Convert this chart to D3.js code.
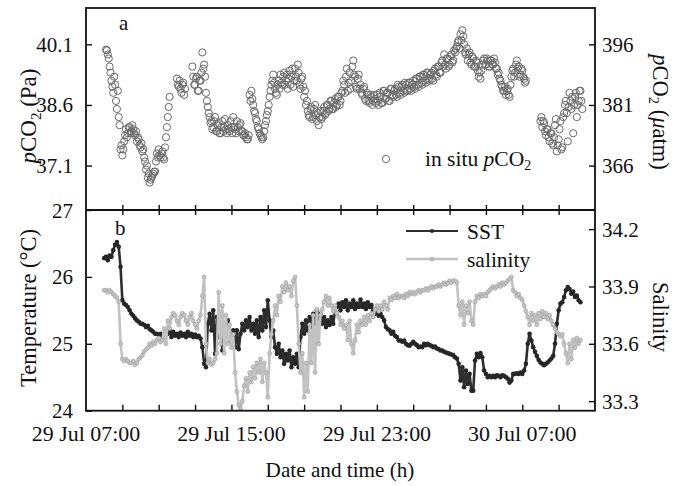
<!DOCTYPE html>
<html>
<head>
<meta charset="utf-8">
<script src="https://cdn.jsdelivr.net/npm/d3@7"></script>
<style>
  html, body { margin: 0; padding: 0; background: #fff; }
  svg text { font-family: "Liberation Serif", "Times New Roman", serif; fill: #111; }
</style>
</head>
<body>
<svg id="chart" width="674" height="486"></svg>
<script>
// Hours are counted from 29 Jul 07:00.

// In situ pCO2 (Pa), one reading every 3 minutes (one row per hour); null = no reading.
const pco2Step = 0.05;
const pco2Start = 1.0;
const pco2Pa = [
  null, null, 39.97, 39.95, 39.85, 39.75, 39.55, 39.4, 39.2, 39.05, 38.9, 39.3, 39.1, 38.7, 38.5, 38.95, 38.3, 38.1, 37.5, 37.6,
  37.35, 37.5, 37.7, 37.85, 38.0, 37.8, 37.9, 38.05, 38.05, 37.9, 37.95, 38.1, 38.0, 37.9, 37.85, 37.95, 37.7, 37.8, 37.75, 37.6,
  37.55, 37.65, 37.45, 37.5, 37.3, 37.2, 37.0, 37.1, 36.8, 36.9, 36.68, 36.75, 36.8, 36.85, 36.9, 36.95, 36.95, 37.2, 37.4, 37.3,
  37.5, 37.35, 37.3, 37.4, 37.45, 37.3, 37.25, 37.55, 37.8, 38.05, 38.3, 38.55, 38.8, null, null, null, null, null, null, null,
  39.25, 39.1, 39.05, 39.2, 39.0, 38.9, 39.1, 39.15, 38.85, 39.0, null, null, null, null, null, null, null, 39.55, 39.3, 39.1,
  39.1, 39.25, 39.3, 38.95, 38.95, 39.2, 39.2, 39.4, 39.9, 39.5, 39.6, 39.3, 38.9, 38.7, 38.55, 38.4, 38.3, 38.15, 38.2, 38.0,
  38.05, 38.2, 38.3, 37.95, 37.95, 38.1, 38.15, 37.9, 37.9, 38.05, 38.2, 37.95, 38.05, 38.25, 38.0, 37.9, 38.1, 38.0, 37.95, 38.2,
  38.05, 37.9, 38.3, 38.05, 38.0, 37.9, 38.2, 38.05, 37.95, 38.1, 38.15, 37.95, 37.95, 37.85, 37.85, 37.9, 37.8, 37.75, 37.75, 37.85,
  38.85, 38.7, 38.95, 38.75, 38.6, 38.45, 38.4, 38.25, 38.2, 38.05, 38.0, 37.9, 37.85, 37.8, 37.75, 37.8, 37.95, 38.1, 38.2, 38.35,
  38.45, 38.6, 38.8, 38.95, 39.1, 39.2, 39.35, 39.15, 39.0, 38.9, 38.85, 39.1, 39.2, 39.0, 39.35, 39.15, 39.1, 39.3, 39.4, 39.1,
  39.2, 39.35, 39.0, 39.25, 39.45, 39.1, 39.3, 39.5, 39.05, 39.2, 39.5, 39.3, 39.2, 39.6, 39.4, 39.1, 39.0, 39.25, 39.3, 39.05,
  38.8, 38.95, 38.6, 38.7, 38.45, 38.35, 38.3, 38.5, 38.55, 38.25, 38.3, 38.5, 38.6, 38.35, 38.2, 38.4, 38.1, 38.3, 38.45, 38.25,
  38.3, 38.45, 38.55, 38.35, 38.4, 38.6, 38.6, 38.45, 38.5, 38.7, 38.7, 38.5, 38.5, 38.65, 38.75, 38.55, 38.6, 38.8, 38.8, 38.6,
  38.7, 38.9, 38.95, 39.2, 39.1, 38.9, 39.3, 39.5, 38.95, 39.15, 39.4, 39.0, 39.2, 39.55, 39.7, 39.35, 39.3, 39.05, 39.0, 39.25,
  39.35, 39.0, 39.1, 38.9, 38.85, 39.0, 39.05, 38.75, 38.7, 38.9, 38.85, 38.7, 38.65, 38.85, 38.8, 38.6, 38.7, 38.85, 38.75, 38.65,
  38.85, 38.7, 38.6, 38.9, 38.8, 38.65, 38.65, 38.95, 38.95, 38.75, 38.75, 38.9, 38.9, 38.7, 38.7, 39.0, 39.0, 38.85, 38.8, 38.95,
  39.0, 38.85, 38.8, 39.1, 39.05, 38.9, 38.85, 39.05, 39.1, 38.95, 38.9, 39.15, 39.1, 38.95, 38.95, 39.15, 39.15, 39.0, 38.95, 39.1,
  39.2, 39.05, 39.0, 39.25, 39.25, 39.1, 39.05, 39.3, 39.3, 39.15, 39.1, 39.35, 39.35, 39.2, 39.15, 39.4, 39.4, 39.25, 39.2, 39.35,
  39.4, 39.25, 39.2, 39.45, 39.5, 39.35, 39.3, 39.55, 39.55, 39.4, 39.4, 39.65, 39.7, 39.55, 39.85, 39.6, 39.5, 39.75, 39.75, 39.55,
  39.6, 39.8, 39.85, 39.65, 39.7, 39.95, 39.9, 40.0, 40.05, 40.15, 40.2, 40.0, 40.35, 40.2, 40.45, 40.3, 40.1, 39.9, 39.85, 40.0,
  39.7, 39.85, 39.9, 39.65, 39.6, 39.8, 39.75, 39.55, 39.55, 39.7, 39.65, 39.45, 39.3, 39.4, 39.25, 39.45, 39.6, 39.7, 39.75, 39.6,
  39.6, 39.75, 39.7, 39.55, 39.55, 39.7, 39.7, 39.6, 39.6, 39.75, 39.65, 39.5, 39.5, 39.35, 39.4, 39.25, 39.2, 39.1, 39.05, 38.95,
  38.95, 39.05, 38.85, 38.95, 39.0, 38.85, 38.8, 39.1, 39.3, 39.45, 39.5, 39.3, 39.4, 39.6, 39.7, 39.5, 39.55, 39.3, 39.35, 39.5,
  39.45, 39.3, 39.25, 39.15, 39.2, null, null, null, null, null, null, null, null, null, null, null, null, null, null, null,
  38.2, 38.3, 38.05, 38.2, 38.15, 37.95, 37.85, 38.0, 38.0, 37.8, 37.7, 37.9, 37.9, 37.65, 37.6, 37.8, 38.1, 38.25, 37.45, 37.6,
  37.75, 38.0, 38.2, 37.5, 37.55, 38.3, 38.4, 38.6, 38.7, 38.4, 37.7, 38.55, 38.9, 38.7, 38.5, 38.8, 37.9, 38.6, 38.8, 38.9,
  38.3, 38.6, 38.7, 38.95, 38.95, 38.7, 38.5
];

// Sea surface temperature (°C) and salinity, one reading every 6 minutes on a shared time base.
const surfaceStep = 0.1;
const surfaceStart = 1.0;
const sstC = [
  26.28, 26.3, 26.25, 26.32, 26.3, 26.4, 26.48, 26.52, 26.45, 26.15,
  25.65, 25.6, 25.58, 25.55, 25.5, 25.45, 25.42, 25.38, 25.35, 25.33,
  25.3, 25.3, 25.28, 25.25, 25.27, 25.22, 25.2, 25.18, 25.15, 25.15,
  25.13, 25.15, 25.12, 25.14, 25.2, 25.15, 25.22, 25.1, 25.18, 25.12,
  25.15, 25.1, 25.17, 25.12, 25.15, 25.1, 25.18, 25.12, 25.15, 25.1,
  25.14, 25.1, 25.12, 25.08, 24.95, 24.7, 24.65, 25.3, 25.45, 25.2,
  25.5, 24.85, 25.4, 25.1, 25.35, 24.9, 25.3, 25.25, 25.35, 25.15,
  25.05, 25.2, 24.95, 25.2, 24.92, 25.15, 25.3, 25.2, 25.35, 25.25,
  25.4, 25.2, 25.3, 25.15, 25.35, 25.1, 25.4, 25.2, 25.5, 25.25,
  25.65, 25.35, 25.1, 25.2, 24.95, 24.85, 25.0, 24.8, 24.9, 24.7,
  24.85, 24.75, 24.9, 24.65, 24.8, 24.7, 24.85, 24.65, 25.1, 25.3,
  25.15, 25.35, 25.2, 25.4, 25.25, 25.45, 25.3, 25.5, 25.35, 25.45,
  25.3, 25.4, 25.25, 25.35, 25.28, 25.4, 25.3, 25.5, 25.55, 25.6,
  25.5, 25.62, 25.55, 25.65, 25.5, 25.6, 25.55, 25.65, 25.52, 25.6,
  25.55, 25.66, 25.55, 25.6, 25.52, 25.62, 25.55, 25.58, 25.5, 25.45,
  25.48, 25.42, 25.45, 25.4, 25.35, 25.25, 25.22, 25.2, 25.15, 25.18,
  25.12, 25.1, 25.05, 25.05, 25.03, 25.05, 25.0, 24.98, 24.97, 25.0,
  25.03, 25.0, 24.98, 24.95, 24.96, 24.95, 25.0, 24.98, 25.0, 24.98,
  24.97, 24.95, 24.96, 24.93, 24.92, 24.9, 24.9, 24.88, 24.87, 24.86,
  24.85, 24.84, 24.83, 24.8, 24.78, 24.7, 24.45, 24.65, 24.35, 24.6,
  24.4, 24.55, 24.3, 24.3, 24.75, 24.85, 24.8, 24.86, 24.8, 24.6,
  24.55, 24.5, 24.52, 24.5, 24.52, 24.5, 24.53, 24.52, 24.5, 24.53,
  24.52, 24.5, 24.48, 24.42, 24.45, 24.55, 24.55, 24.56, 24.55, 24.57,
  24.55, 24.6, 24.7, 25.0, 25.15, 25.05, 24.95, 24.88, 24.82, 24.76,
  24.72, 24.7, 24.68, 24.7, 24.72, 24.75, 24.78, 24.82, 25.0, 25.3,
  25.5, 25.6, 25.62, 25.7, 25.8, 25.85, 25.82, 25.75, 25.78, 25.7,
  25.72, 25.65, 25.62
];
const salinity = [
  33.88, 33.88, 33.87, 33.88, 33.87, 33.86, 33.85, 33.84, 33.82, 33.6,
  33.52, 33.51, 33.52, 33.51, 33.5, 33.5, 33.51, 33.49, 33.5, 33.52,
  33.53, 33.54, 33.56, 33.57, 33.58, 33.6, 33.59, 33.61, 33.6, 33.62,
  33.63, 33.61, 33.62, 33.68, 33.6, 33.72, 33.68, 33.74, 33.76, 33.75,
  33.72, 33.7, 33.74, 33.76, 33.75, 33.72, 33.7, 33.74, 33.76, 33.72,
  33.7, 33.68, 33.72, 33.75, 33.85, 33.95, 33.6, 33.5, 33.52, 33.49,
  33.5, 33.52, 33.55, 33.87, 33.6, 33.8, 33.55, 33.75, 33.6, 33.7,
  33.58, 33.65, 33.45, 33.35, 33.28, 33.26, 33.3, 33.38, 33.42, 33.35,
  33.45, 33.4, 33.48, 33.42, 33.5, 33.45, 33.52, 33.4, 33.5, 33.45,
  33.32, 33.55, 33.65, 33.72, 33.8, 33.75, 33.85, 33.82, 33.9, 33.87,
  33.92, 33.88, 33.9, 33.85, 33.93, 33.95, 33.8, 33.6, 33.45, 33.55,
  33.32, 33.5, 33.35, 33.7, 33.5, 33.75, 33.45, 33.78, 33.6, 33.75,
  33.78, 33.82, 33.85, 33.8, 33.84, 33.8, 33.77, 33.8, 33.76, 33.74,
  33.7, 33.72, 33.68, 33.7, 33.62, 33.72, 33.6, 33.55, 33.62, 33.7,
  33.66, 33.72, 33.7, 33.74, 33.7, 33.75, 33.72, 33.76, 33.74, 33.78,
  33.8, 33.77, 33.8, 33.78, 33.82, 33.8, 33.78, 33.84, 33.83, 33.85,
  33.84, 33.86, 33.84, 33.85, 33.85, 33.84, 33.86, 33.85, 33.87, 33.86,
  33.87, 33.86, 33.87, 33.88, 33.87, 33.88, 33.88, 33.89, 33.88, 33.89,
  33.9, 33.89, 33.9, 33.9, 33.91, 33.9, 33.91, 33.92, 33.91, 33.92,
  33.93, 33.92, 33.93, 33.93, 33.92, 33.8, 33.75, 33.82, 33.7, 33.8,
  33.76, 33.82, 33.72, 33.7, 33.82, 33.85, 33.84, 33.86, 33.85, 33.86,
  33.85, 33.87, 33.88, 33.89, 33.9, 33.89, 33.9, 33.91, 33.9, 33.92,
  33.91, 33.92, 33.93, 33.94, 33.95, 33.88, 33.87, 33.85, 33.86, 33.84,
  33.83, 33.8, 33.77, 33.74, 33.7, 33.76, 33.72, 33.75, 33.7, 33.76,
  33.73, 33.77, 33.74, 33.76, 33.73, 33.75, 33.72, 33.7, 33.68, 33.66,
  33.65, 33.64, 33.65, 33.6, 33.55, 33.5, 33.6, 33.52, 33.62, 33.58,
  33.63, 33.6, 33.62
];

// Axis ticks and labels.
const pco2PaTicks = [37.1, 38.6, 40.1];
const pco2AtmTicks = [366, 381, 396];
const tempTicks = [24, 25, 26, 27];
const salinityTicks = [33.3, 33.6, 33.9, 34.2];
const timeLabelHours = [0, 8, 16, 24];
const timeLabels = ["29 Jul 07:00", "29 Jul 15:00", "29 Jul 23:00", "30 Jul 07:00"];

// ---- layout ----
const svg = d3.select("#chart");
const plotLeft = 86, plotRight = 595, plotTop = 8, plotMid = 210, plotBottom = 410.7;
const HOUR = 3600e3;
const t0 = Date.UTC(2013, 6, 29, 7);
const toDate = h => new Date(t0 + h * HOUR);

const x = d3.scaleUtc().domain([toDate(0), toDate(28)]).range([plotLeft, plotRight]);
const yPa = d3.scaleLinear().domain([36, 41]).range([plotMid, plotTop]);
const yAtm = d3.scaleLinear().domain([355, 405]).range([plotMid, plotTop]);
const yTemp = d3.scaleLinear().domain([24, 27]).range([plotBottom, plotMid]);
const ySal = d3.scaleLinear().domain([33.25, 34.3]).range([plotBottom, plotMid]);

const toSeries = (start, step, vals) => vals.map((v, i) => ({ date: toDate(start + i * step), v }));
const pco2Data = toSeries(pco2Start, pco2Step, pco2Pa).filter(d => d.v != null);
const sstData = toSeries(surfaceStart, surfaceStep, sstC);
const salData = toSeries(surfaceStart, surfaceStep, salinity);

const FONT = 21;

// text helper: optionally stretched serif text
function addText(g, px, py, sx, size, anchor) {
  return g.append("text")
    .attr("transform", `translate(${px},${py}) scale(${sx},1)`)
    .attr("text-anchor", anchor || "start")
    .attr("font-size", size);
}
function addRichText(t, parts) {
  parts.forEach(p => {
    const ts = t.append("tspan").text(p.s);
    if (p.italic) ts.attr("font-style", "italic");
    if (p.sub) ts.attr("font-size", "0.65em").attr("dy", "0.3em");
    if (p.after) ts.attr("dy", "-0.2em");
  });
  return t;
}

// ---- pCO2 scatter ----
svg.append("g")
  .selectAll("circle")
  .data(pco2Data)
  .join("circle")
  .attr("cx", d => x(d.date))
  .attr("cy", d => yPa(d.v))
  .attr("r", 3.6)
  .attr("fill", "none")
  .attr("stroke", "#6a6a6a")
  .attr("stroke-width", 1);

// ---- SST and salinity lines with markers ----
const sstLine = d3.line().x(d => x(d.date)).y(d => yTemp(d.v));
const salLine = d3.line().x(d => x(d.date)).y(d => ySal(d.v));

svg.append("path").datum(sstData).attr("d", sstLine)
  .attr("fill", "none").attr("stroke", "#2e2e2e").attr("stroke-width", 2.6).attr("stroke-linejoin", "round");
svg.append("g").selectAll("circle").data(sstData).join("circle")
  .attr("cx", d => x(d.date)).attr("cy", d => yTemp(d.v)).attr("r", 2.3)
  .attr("fill", "#262626");

svg.append("path").datum(salData).attr("d", salLine)
  .attr("fill", "none").attr("stroke", "#c2c2c2").attr("stroke-width", 2.6).attr("stroke-linejoin", "round");
svg.append("g").selectAll("circle").data(salData).join("circle")
  .attr("cx", d => x(d.date)).attr("cy", d => ySal(d.v)).attr("r", 2)
  .attr("fill", "#c6c6c6").attr("stroke", "#9a9a9a").attr("stroke-width", 0.6);

// ---- frame ----
svg.append("rect").attr("x", plotLeft).attr("y", plotTop)
  .attr("width", plotRight - plotLeft).attr("height", plotBottom - plotTop)
  .attr("fill", "none").attr("stroke", "#111").attr("stroke-width", 1.8);
svg.append("line").attr("x1", plotLeft).attr("x2", plotRight).attr("y1", plotMid).attr("y2", plotMid)
  .attr("stroke", "#111").attr("stroke-width", 1.8);

// ---- ticks ----
const tickDates = d3.utcHour.range(toDate(2), toDate(27), 2);
function tickStyle(g) {
  g.select(".domain").remove();
  g.selectAll(".tick line").attr("stroke", "#111").attr("stroke-width", 1.4);
}
svg.append("g").attr("transform", `translate(0,${plotMid})`)
  .call(d3.axisTop(x).tickValues(tickDates).tickSize(5).tickFormat("")).call(tickStyle);
svg.append("g").attr("transform", `translate(0,${plotMid})`)
  .call(d3.axisBottom(x).tickValues(tickDates).tickSize(5).tickFormat("")).call(tickStyle);
svg.append("g").attr("transform", `translate(0,${plotBottom})`)
  .call(d3.axisTop(x).tickValues(tickDates).tickSize(6).tickFormat("")).call(tickStyle);

svg.append("g").attr("transform", `translate(${plotLeft},0)`)
  .call(d3.axisLeft(yPa).tickValues(pco2PaTicks).tickSize(-6).tickFormat("")).call(tickStyle);
svg.append("g").attr("transform", `translate(${plotLeft},0)`)
  .call(d3.axisLeft(yTemp).tickValues(tempTicks).tickSize(-6).tickFormat("")).call(tickStyle);
svg.append("g").attr("transform", `translate(${plotRight},0)`)
  .call(d3.axisRight(yAtm).tickValues(pco2AtmTicks).tickSize(-6).tickFormat("")).call(tickStyle);
svg.append("g").attr("transform", `translate(${plotRight},0)`)
  .call(d3.axisRight(ySal).tickValues(salinityTicks).tickSize(-6).tickFormat("")).call(tickStyle);

// ---- tick labels ----
const labels = svg.append("g");
pco2PaTicks.forEach(v => addText(labels, 73, yPa(v) + 7.5, 1, FONT, "end").text(d3.format(".1f")(v)));
tempTicks.forEach(v => addText(labels, 73, yTemp(v) + 7.5, 1, FONT, "end").text(v));
pco2AtmTicks.forEach(v => addText(labels, 602, yAtm(v) + 7.5, 1, FONT, "start").text(v));
salinityTicks.forEach(v => addText(labels, 602, ySal(v) + 7.5, 1, FONT, "start").text(d3.format(".1f")(v)));
timeLabelHours.forEach((h, i) => addText(labels, x(toDate(h)), 441, 1.07, 20.5, "middle").text(timeLabels[i]));

// ---- axis titles ----
addText(svg, 340, 477, 1.06, 20, "middle").text("Date and time (h)");

addRichText(svg.append("text")
  .attr("transform", "translate(36,116) rotate(-90)")
  .attr("text-anchor", "middle").attr("font-size", 23),
  [{ s: "p", italic: true }, { s: "CO" }, { s: "2", sub: true }, { s: " (Pa)", after: true }]);

svg.append("text")
  .attr("transform", "translate(36,308) rotate(-90)")
  .attr("text-anchor", "middle").attr("font-size", 22.5)
  .text("Temperature (°C)");

addRichText(svg.append("text")
  .attr("transform", "translate(653,112) rotate(90)")
  .attr("text-anchor", "middle").attr("font-size", 22.5),
  [{ s: "p", italic: true }, { s: "CO" }, { s: "2", sub: true }, { s: " (", after: true }, { s: "μ", italic: true }, { s: "atm)" }]);

svg.append("text")
  .attr("transform", "translate(653,317) rotate(90)")
  .attr("text-anchor", "middle").attr("font-size", 22.5)
  .text("Salinity");

// ---- panel letters ----
addText(svg, 119, 30, 1, 21, "start").text("a");
addText(svg, 115, 235, 1, 21, "start").text("b");

// ---- legends ----
svg.append("circle").attr("cx", 386).attr("cy", 159).attr("r", 3.6)
  .attr("fill", "none").attr("stroke", "#6a6a6a").attr("stroke-width", 1);
addRichText(addText(svg, 425, 166, 1, 21.5, "start"),
  [{ s: "in situ " }, { s: "p", italic: true }, { s: "CO" }, { s: "2", sub: true }]);

svg.append("line").attr("x1", 406).attr("x2", 458).attr("y1", 231).attr("y2", 231)
  .attr("stroke", "#2e2e2e").attr("stroke-width", 2.2);
svg.append("circle").attr("cx", 432).attr("cy", 231).attr("r", 2).attr("fill", "#262626");
addText(svg, 467, 238.5, 1, 21.5, "start").text("SST");

svg.append("line").attr("x1", 406).attr("x2", 458).attr("y1", 259).attr("y2", 259)
  .attr("stroke", "#c2c2c2").attr("stroke-width", 2.4);
svg.append("circle").attr("cx", 432).attr("cy", 259).attr("r", 1.9)
  .attr("fill", "#c6c6c6").attr("stroke", "#9a9a9a").attr("stroke-width", 0.6);
addText(svg, 467, 266.5, 1, 21.5, "start").text("salinity");
</script>
</body>
</html>
